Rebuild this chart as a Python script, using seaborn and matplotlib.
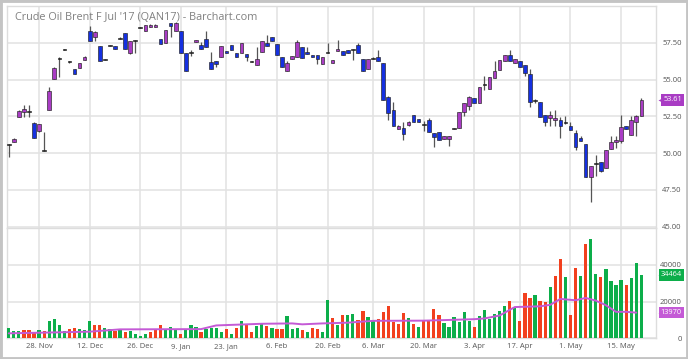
import numpy as np
import pandas as pd
import matplotlib
matplotlib.use('Agg')
import matplotlib.pyplot as plt
import matplotlib.transforms as mtransforms
import seaborn as sns
from matplotlib.patches import Rectangle

# trading days (US holidays skipped by the chart)
holidays = ['2016-11-24', '2016-12-26', '2017-01-02', '2017-01-16', '2017-02-20', '2017-04-14']
dates = pd.bdate_range('2016-11-17', '2017-05-19', freq='C', holidays=holidays)

opens = [50.55, 50.75, 52.45, 52.82, 52.82, 52.05, 51.5, 50.2, 52.95, 55.05,
         56.45, 57.05, 56.2, 55.7, 55.78, 56.32, 58.32, 57.87, 57.27, 56.37,
         57.32, 57.27, 57.8, 58.14, 56.78, 57.65, 58.55, 58.27, 58.55, 58.55,
         57.73, 57.46, 58.82, 58.27, 58.27, 56.82, 56.82, 57.55, 57.36, 57.77,
         56.18, 56.27, 56.5, 56.95, 57.36, 56.82, 56.78, 56.73, 56.23, 55.96,
         56.86, 57.45, 57.91, 57.41, 56.55, 55.55, 56.37, 56.55, 57.23, 56.86,
         56.68, 56.64, 56.05, 56.86, 56.14, 56.91, 56.95, 57.0, 57.05, 57.32,
         56.37, 55.73, 56.46, 56.5, 56.14, 53.78, 52.96, 51.64, 51.73, 51.91,
         52.59, 52.28, 51.96, 52.23, 51.37, 51.46, 50.96, 50.96, 51.68, 51.73,
         52.82, 53.19, 53.73, 53.41, 54.68, 54.36, 55.09, 55.68, 56.23, 56.64,
         56.14, 56.27, 55.96, 55.37, 53.55, 53.5, 52.59, 52.41, 52.23, 52.23,
         52.05, 51.87, 51.37, 51.05, 50.59, 48.37, 49.32, 49.41, 49.0, 50.28,
         50.73, 50.82, 51.87, 51.23, 52.09, 52.5]
highs = [50.6, 51.0, 52.9, 53.27, 53.27, 52.1, 52.0, 51.45, 54.5, 55.85,
         56.5, 57.1, 56.25, 55.7, 56.1, 56.6, 58.64, 58.3, 57.27, 56.4,
         57.36, 57.27, 57.9, 58.14, 57.65, 57.68, 58.6, 58.73, 58.75, 58.75,
         57.73, 58.37, 58.82, 58.9, 58.27, 56.82, 57.0, 57.7, 57.55, 58.3,
         56.86, 56.27, 57.27, 56.95, 57.36, 56.82, 57.45, 56.73, 56.27, 57.19,
         57.6, 58.05, 57.91, 57.41, 56.55, 56.27, 56.59, 57.68, 57.23, 57.2,
         56.68, 56.64, 56.5, 57.5, 56.32, 57.68, 56.95, 57.0, 57.08, 57.5,
         56.37, 56.37, 56.5, 57.0, 56.14, 53.9, 53.46, 51.9, 52.14, 52.2,
         52.59, 52.28, 52.18, 52.41, 51.37, 51.46, 51.18, 51.18, 51.72, 52.78,
         53.41, 53.9, 53.73, 54.46, 55.23, 55.18, 56.23, 56.32, 56.64, 57.0,
         56.41, 56.27, 55.96, 55.69, 53.69, 53.5, 52.59, 52.88, 52.9, 52.46,
         52.5, 52.14, 51.55, 51.14, 50.59, 49.09, 49.87, 49.41, 50.2, 51.19,
         51.14, 52.59, 51.87, 52.5, 52.6, 53.75]
lows = [49.7, 50.72, 52.45, 52.45, 52.45, 51.0, 51.45, 50.15, 52.95, 55.05,
        55.15, 57.0, 56.15, 55.4, 55.78, 56.32, 57.64, 57.64, 56.23, 56.33,
        57.28, 57.09, 57.75, 57.05, 56.75, 56.82, 58.5, 58.27, 58.55, 58.55,
        57.41, 57.46, 57.87, 58.27, 56.82, 55.55, 56.6, 57.55, 57.09, 57.19,
        55.73, 55.85, 56.5, 56.82, 57.0, 56.5, 56.78, 56.23, 56.2, 55.96,
        56.86, 57.27, 57.64, 56.68, 55.86, 55.55, 56.37, 56.55, 56.46, 56.73,
        56.5, 56.05, 56.05, 56.82, 56.14, 56.91, 56.68, 56.82, 56.32, 56.82,
        55.59, 55.73, 56.42, 56.27, 53.59, 52.23, 51.82, 51.6, 50.91, 51.87,
        52.09, 52.14, 51.5, 51.46, 50.41, 50.87, 50.96, 50.5, 51.64, 51.73,
        52.5, 52.95, 53.41, 53.41, 54.32, 54.36, 55.09, 55.68, 56.23, 56.27,
        56.14, 55.86, 55.23, 53.14, 53.41, 52.45, 51.82, 51.82, 51.82, 51.0,
        51.96, 51.55, 50.18, 50.82, 48.37, 46.66, 48.46, 48.7, 49.0, 50.28,
        50.37, 50.7, 51.64, 51.23, 51.19, 52.5]
closes = [50.55, 50.95, 52.85, 53.0, 52.82, 51.05, 51.95, 50.2, 54.2, 55.78,
          56.45, 57.05, 56.2, 55.4, 56.1, 56.55, 57.64, 58.23, 56.23, 56.37,
          57.32, 57.09, 57.8, 57.05, 57.6, 57.65, 58.55, 58.73, 58.73, 58.73,
          57.41, 58.37, 58.64, 58.82, 56.82, 55.55, 56.82, 57.68, 57.09, 57.19,
          55.73, 56.05, 57.27, 56.82, 57.0, 56.5, 57.45, 56.55, 56.23, 56.41,
          57.6, 57.27, 57.64, 56.68, 55.86, 56.1, 56.59, 57.55, 56.46, 56.73,
          56.5, 56.41, 56.5, 56.86, 56.32, 57.09, 56.68, 56.82, 57.05, 56.82,
          55.59, 56.37, 56.46, 56.27, 53.59, 52.69, 51.82, 51.82, 51.32, 52.14,
          52.09, 52.14, 51.96, 51.46, 51.09, 50.87, 51.18, 51.18, 51.68, 52.78,
          53.41, 53.78, 53.41, 54.46, 54.68, 55.18, 55.55, 56.32, 56.64, 56.27,
          56.41, 55.86, 55.41, 53.46, 53.55, 52.45, 52.09, 52.59, 52.41, 51.82,
          52.05, 51.55, 50.41, 50.82, 48.37, 49.09, 49.32, 48.77, 50.2, 50.78,
          50.91, 51.78, 51.64, 52.23, 52.5, 53.61]

volumes = [5580, 3960, 3960, 4500, 4320, 3060, 4680, 3960, 9360, 10440,
           7380, 3960, 5220, 5580, 5220, 4680, 9540, 7020, 7020, 5400,
           5040, 4140, 4320, 3600, 3780, 2340, 1260, 2160, 3420, 4320,
           7200, 4500, 6120, 4500, 2160, 4680, 7020, 6300, 3420, 5220,
           5580, 5580, 3240, 4860, 2520, 5580, 9180, 7200, 3420, 6840,
           7560, 6840, 5580, 5040, 5040, 12240, 4860, 5760, 4680, 3600,
           5580, 4860, 3600, 20700, 10970, 7020, 12700, 12780, 13320, 10080,
           14940, 11340, 9180, 10260, 14400, 17460, 8640, 7560, 13500, 10800,
           7740, 6300, 9180, 9180, 15840, 12420, 8280, 5940, 11340, 8820,
           14040, 9540, 6300, 11880, 15660, 10620, 13140, 14760, 17460, 20150,
           17080, 9350, 24650, 21950, 23570, 20320, 19620, 28100, 33840, 43030,
           33130, 12760, 38160, 33840, 51500, 53840, 34920, 33130, 37620, 30970,
           29190, 31690, 29190, 32590, 40870, 34464]
vol_dir = list('gggrrrgrgg' 'ggrrgggrrg' 'grgrggggrr' 'rgggrgggrg'
               'gggrgrgrrg' 'grgrrgggrg' 'rrggrgrggr' 'rggrrrrrrg'
               'rgrrrrgggg' 'ggrggggggr' 'grrrgrrgrr' 'grrgrggrgg'
               'ggrggg')

# purple line in the volume pane (vertex positions in bar index, value)
line_idx = [0, 16, 22, 38, 41, 50, 56, 58, 62, 67, 72, 82, 86, 92, 94, 97, 100,
            105, 107, 109, 112, 114, 116, 118, 120, 122, 124]
line_val = [2700, 3600, 4860, 5000, 7000, 7900, 8100, 7600, 8100, 8500, 9500, 9600,
            9900, 10400, 10800, 12400, 17000, 17400, 18200, 21400, 20700, 21950,
            20500, 18000, 14400, 14400, 13970]

tick_dates = ['2016-11-28', '2016-12-12', '2016-12-26', '2017-01-09', '2017-01-23',
              '2017-02-06', '2017-02-20', '2017-03-06', '2017-03-20', '2017-04-03',
              '2017-04-17', '2017-05-01', '2017-05-15']
tick_labels = ['28. Nov', '12. Dec', '26. Dec', '9. Jan', '23. Jan', '6. Feb', '20. Feb',
               '6. Mar', '20. Mar', '3. Apr', '17. Apr', '1. May', '15. May']

PURPLE = '#a93cc4'
BLUE = '#1530e0'
GREEN = '#0cae4a'
RED = '#f2401e'
LINE = '#c45ad6'
GRID = '#e2e2e2'
TXT = '#555555'

sns.set_theme(style='white')
plt.rcParams['font.family'] = ['Open Sans', 'DejaVu Sans']

fig = plt.figure(figsize=(6.88, 3.59), dpi=100)
L, R = 6.7 / 688, 656 / 688
ax = fig.add_axes([L, 1 - 228 / 359, R - L, (228 - 6) / 359])
axv = fig.add_axes([L, 1 - 338.3 / 359, R - L, (338.3 - 228) / 359], sharex=ax)

x = np.arange(len(dates))
o, h, lo, c = map(np.array, (opens, highs, lows, closes))
col = np.where(c > o, PURPLE, np.where(c < o, BLUE, '#222222'))
body_h = np.maximum(np.abs(c - o), 0.07)
body_b = np.where(np.abs(c - o) < 0.07, o - 0.035, np.minimum(o, c))

ax.vlines(x, lo, h, color='#555555', lw=0.9, zorder=2)
ax.bar(x, body_h, bottom=body_b, width=0.72, color=col, edgecolor='#222222',
       linewidth=0.45, zorder=3)

vdf = pd.DataFrame({'idx': x, 'vol': volumes, 'dir': vol_dir})
sns.barplot(data=vdf, x='idx', y='vol', hue='dir', palette={'g': GREEN, 'r': RED},
            native_scale=True, dodge=False, width=0.64, errorbar=None,
            saturation=1, legend=False, ax=axv, linewidth=0, zorder=3)
sns.lineplot(x=line_idx, y=line_val, color=LINE, lw=1.4, ax=axv, zorder=4)

tick_pos = dates.searchsorted(pd.to_datetime(tick_dates))
for a in (ax, axv):
    a.set_xlim(-0.4, 127.9)
    a.set_xticks(tick_pos)
    a.grid(True, color=GRID, lw=1.1)
    a.set_axisbelow(True)
    for s in a.spines.values():
        s.set_color('#dddddd')
        s.set_linewidth(1)
    a.yaxis.tick_right()
    a.tick_params(axis='y', length=0, pad=18.5, labelsize=5.5, labelcolor=TXT)
    a.set_xlabel('')
    a.set_ylabel('')

ax.spines['bottom'].set_visible(False)
ax.set_ylim(44.9, 60.0)
ax.set_yticks([45, 47.5, 50, 52.5, 55, 57.5], labels=['45.00', '47.50', '50.00', '52.50', '55.00', '57.50'])
ax.tick_params(axis='x', labelbottom=False, length=0)
plt.setp(ax.get_yticklabels(), ha='right')

axv.set_ylim(0, 60000)
axv.set_yticks([0, 20000, 40000], labels=['0', '20000', '40000'])
axv.set_xticklabels(tick_labels)
axv.tick_params(axis='x', length=0, pad=3.5, labelsize=5.5, labelcolor=TXT)
plt.setp(axv.get_yticklabels(), ha='right')


def badge(a, val, text, color):
    tr = mtransforms.blended_transform_factory(a.transAxes, a.transData)
    a.annotate(text, xy=(1, val), xycoords=tr, xytext=(18.6, 0), textcoords='offset points',
               ha='right', va='center', fontsize=5.3, color='white', zorder=10,
               annotation_clip=False,
               bbox=dict(boxstyle='square,pad=0.28', fc=color, ec='none'))
    a.plot([1], [val], marker='<', ms=4.2, color=color, mec='none', clip_on=False, zorder=9,
           transform=mtransforms.offset_copy(tr, fig=fig, x=3.4, units='points'))


badge(ax, closes[-1], '53.61', PURPLE)
badge(axv, volumes[-1], '34464', GREEN)
badge(axv, line_val[-1], '13970', LINE)

fig.text(15 / 688, 1 - 17 / 359, "Crude Oil Brent F Jul '17 (QAN17) - Barchart.com",
         fontsize=7.8, color='#808080', ha='left', va='center', zorder=20)
fig.patches.append(Rectangle((0, 0), 1, 1, transform=fig.transFigure, fill=False,
                             ec='#c4c4c4', lw=3.5))

fig.savefig('out.png', dpi=100)
